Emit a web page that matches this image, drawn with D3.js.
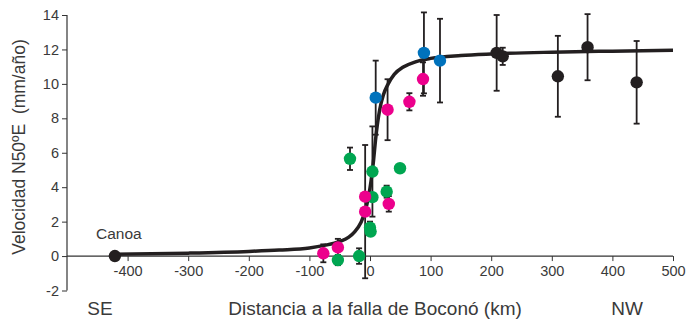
<!DOCTYPE html>
<html><head><meta charset="utf-8">
<script src="https://cdn.jsdelivr.net/npm/d3@7"></script>
<style>
html,body{margin:0;padding:0;background:#fff;}
svg text{font-family:"Liberation Sans","Helvetica",Arial,sans-serif;fill:#3a3a3a;white-space:pre;}
</style></head>
<body><svg id="c" width="689" height="324"></svg>
<script>
// ---- data ----
const xTicks = [-400,-300,-200,-100,0,100,200,300,400,500];
const yTicks = [-2,0,2,4,6,8,10,12,14];

const pinkX   = [-77, -53, -8, -8, 31, 29, 65, 87.5];
const pinkY   = [0.16, 0.5, 3.45, 2.58, 3.03, 8.5, 8.96, 10.28];
const pinkErr = [0.52, 0.5, 0, 3.87, 0.45, 1.77, 0.5, 0.97];

const greenX   = [-53, -18, -33, 4, 4, 0, 1, 27.5, 49.5];
const greenY   = [-0.23, 0, 5.65, 4.91, 3.42, 1.65, 1.42, 3.74, 5.1];
const greenErr = [0.3, 0.45, 0.65, 2.62, 0, 0.35, 0, 0.35, 0.12];

const blueX   = [9.4, 89, 115.5];
const blueY   = [9.2, 11.8, 11.35];
const blueErr = [2.15, 2.35, 2.43];

const blackX   = [-421, 209, 219, 310, 359, 440];
const blackY   = [0, 11.8, 11.6, 10.44, 12.13, 10.09];
const blackErr = [0, 2.2, 0.5, 2.35, 1.92, 2.4];

const curveX = [-421,-300,-200,-150,-100,-75,-50,-35,-25,-15,-8,-3,0,3,6,9,12,16,22,30,40,55,75,100,150,200,300,400,500];
const curveY = [0.1,0.17,0.27,0.35,0.47,0.62,0.85,1.1,1.42,1.95,2.6,3.35,3.95,4.7,5.6,6.7,7.6,8.5,9.35,10.0,10.55,10.98,11.28,11.48,11.65,11.74,11.84,11.9,11.95];

// ---- chart ----
const svg = d3.select("#c");
const x = d3.scaleLinear().domain([-500,500]).range([67,673]);
const y = d3.scaleLinear().domain([-2,14]).range([290.5,15]);
const fmt = d => String(d);

// y axis
const yAxis = d3.axisLeft(y).tickValues(yTicks).tickSize(5).tickPadding(3).tickFormat(fmt);
const gy = svg.append("g").attr("transform","translate(67,0)").call(yAxis);
gy.select(".domain").attr("stroke","#333").attr("stroke-width",1.2).attr("d","M0,"+y(14)+"V"+y(-2));
gy.selectAll(".tick line").attr("stroke","#333").attr("stroke-width",1);
gy.selectAll(".tick text").attr("font-size",14.5).style("fill","#3a3a3a");

// x axis at y=0
const xAxis = d3.axisBottom(x).tickValues(xTicks).tickSize(5).tickPadding(5).tickFormat(fmt);
const gx = svg.append("g").attr("transform","translate(0,"+y(0)+")").call(xAxis);
gx.select(".domain").attr("stroke","#333").attr("stroke-width",1.2).attr("d","M"+x(-500)+",0H"+x(500));
gx.selectAll(".tick line").attr("stroke","#333").attr("stroke-width",1);
gx.selectAll(".tick text").attr("font-size",14.5).style("fill","#3a3a3a");

// labels
svg.append("text").attr("transform","translate(25,147) rotate(-90)").attr("text-anchor","middle")
  .attr("font-size",17.5).text("Velocidad N50ºE  (mm/año)");
svg.append("text").attr("x",375).attr("y",315).attr("text-anchor","middle").attr("font-size",19)
  .text("Distancia a la falla de Boconó (km)");
svg.append("text").attr("x",100).attr("y",315).attr("text-anchor","middle").attr("font-size",19).text("SE");
svg.append("text").attr("x",627).attr("y",315).attr("text-anchor","middle").attr("font-size",19).text("NW");
svg.append("text").attr("x",96).attr("y",239).attr("font-size",15.5).text("Canoa");

function series(xs, ys, es, color){
  return xs.map((v,i)=>({x:v, y:ys[i], e:es[i], c:color}));
}
const all = [].concat(
  series(greenX, greenY, greenErr, "#00a651"),
  series(pinkX, pinkY, pinkErr, "#ec008c"),
  series(blueX, blueY, blueErr, "#0072bc"),
  series(blackX, blackY, blackErr, "#231f20")
);

// error bars
const eb = svg.append("g").attr("stroke","#231f20").attr("stroke-width",1.8);
all.filter(d=>d.e>0).forEach(d=>{
  const cx = x(d.x), y1 = y(d.y+d.e), y2 = y(d.y-d.e);
  eb.append("line").attr("x1",cx).attr("x2",cx).attr("y1",y1).attr("y2",y2);
  eb.append("line").attr("x1",cx-3).attr("x2",cx+3).attr("y1",y1).attr("y2",y1);
  eb.append("line").attr("x1",cx-3).attr("x2",cx+3).attr("y1",y2).attr("y2",y2);
});

// curve
const curvePts = curveX.map((v,i)=>[v,curveY[i]]);
svg.append("path").datum(curvePts)
  .attr("d", d3.line().x(d=>x(d[0])).y(d=>y(d[1])).curve(d3.curveMonotoneX))
  .attr("fill","none").attr("stroke","#231f20").attr("stroke-width",3.5);

// points
svg.append("g").selectAll("circle").data(all).join("circle")
  .attr("cx",d=>x(d.x)).attr("cy",d=>y(d.y)).attr("r",6.2).attr("fill",d=>d.c);
</script></body></html>
